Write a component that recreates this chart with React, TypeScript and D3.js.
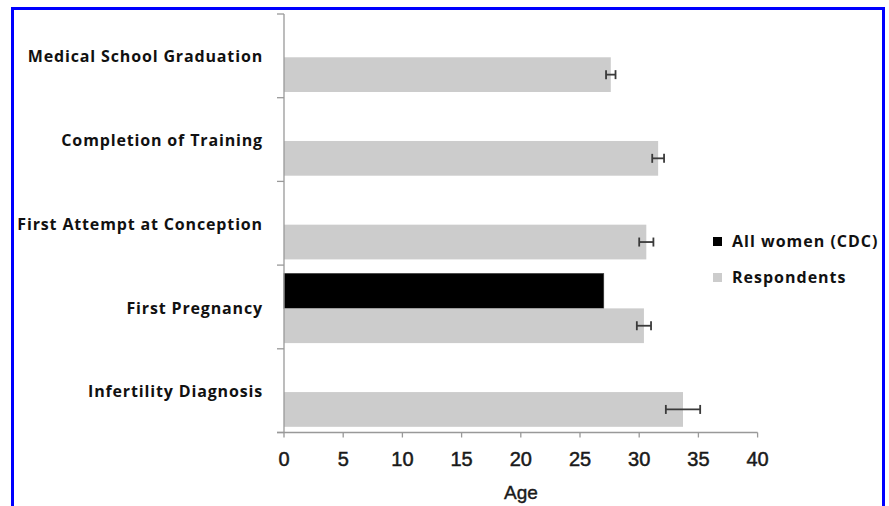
import React from "react";
import * as d3 from "d3";

const categories = [
  "Medical School Graduation",
  "Completion of Training",
  "First Attempt at Conception",
  "First Pregnancy",
  "Infertility Diagnosis",
];
const seriesNames = ["All women (CDC)", "Respondents"];
const cdcValues: (number | null)[] = [null, null, null, 27.0, null];
const respondentValues = [27.6, 31.6, 30.6, 30.4, 33.7];
const respondentErrors = [0.4, 0.5, 0.6, 0.6, 1.45];
const xTicks = [0, 5, 10, 15, 20, 25, 30, 35, 40];
const colors = ["#000000", "#cccccc"];

const W = 889;
const H = 506;
const left = 284;
const right = 757.6;
const top = 14;
const bottom = 432.5;

export default function App() {
  const x = d3.scaleLinear().domain([0, 40]).range([left, right]);
  const y = d3
    .scaleBand<string>()
    .domain(categories)
    .range([top, bottom])
    .paddingInner(0.17)
    .paddingOuter(0.085)
    .align(0.6);
  const sub = d3.scaleBand<string>().domain(seriesNames).range([0, y.bandwidth()]);
  const step = y.step();
  const boundaries = d3.range(categories.length + 1).map((i) => top + i * step);
  const labelFont = "'Open Sans', 'DejaVu Sans', sans-serif";
  const tickFont = "'Liberation Sans', Arial, sans-serif";

  return (
    <svg width={W} height={H} style={{ position: "absolute", left: 0, top: 0, background: "#fff" }}>
      <rect x={0} y={0} width={W} height={H} fill="#fff" />
      <rect x={12.5} y={8.5} width={871} height={H + 20} fill="none" stroke="#0000ff" strokeWidth={3} />
      {/* bars */}
      {categories.map((c, i) => {
        const y0 = y(c)!;
        const cdc = cdcValues[i];
        const r = respondentValues[i];
        const e = respondentErrors[i];
        const ry = y0 + sub(seriesNames[1])!;
        const bh = sub.bandwidth();
        return (
          <g key={c}>
            {cdc !== null && (
              <rect x={x(0)} y={y0 + sub(seriesNames[0])!} width={x(cdc) - x(0)} height={bh} fill={colors[0]} stroke="#333" strokeWidth={0.8} />
            )}
            <rect x={x(0)} y={ry} width={x(r) - x(0)} height={bh} fill={colors[1]} />
            <g stroke="#3a3a3a" strokeWidth={1.8}>
              <line x1={x(r - e)} x2={x(r + e)} y1={ry + bh / 2} y2={ry + bh / 2} />
              <line x1={x(r - e)} x2={x(r - e)} y1={ry + bh / 2 - 4.5} y2={ry + bh / 2 + 4.5} />
              <line x1={x(r + e)} x2={x(r + e)} y1={ry + bh / 2 - 4.5} y2={ry + bh / 2 + 4.5} />
            </g>
          </g>
        );
      })}
      {/* category labels at band centers */}
      {categories.map((c, i) => (
        <text
          key={"l" + c}
          x={263}
          y={boundaries[i] + step / 2 + 1}
          dy="0.35em"
          textAnchor="end"
          fontFamily={labelFont}
          fontWeight={700}
          fontSize={16}
          letterSpacing={0.85}
          fill="#111"
        >
          {c}
        </text>
      ))}
      {/* y axis */}
      <line x1={left} x2={left} y1={top} y2={bottom} stroke="#999" strokeWidth={1.3} />
      {boundaries.map((b, i) => (
        <line key={"yt" + i} x1={left - 7} x2={left} y1={b} y2={b} stroke="#999" strokeWidth={1.3} />
      ))}
      {/* x axis */}
      <line x1={left - 7} x2={right} y1={bottom} y2={bottom} stroke="#999" strokeWidth={1.3} />
      {xTicks.map((t) => (
        <g key={"xt" + t}>
          <line x1={x(t)} x2={x(t)} y1={bottom} y2={bottom + 5} stroke="#999" strokeWidth={1.3} />
          <text x={x(t)} y={459} dy="0.35em" textAnchor="middle" fontFamily={tickFont} fontSize={20} fill="#1a1a1a" stroke="#1a1a1a" strokeWidth={0.5}>
            {t}
          </text>
        </g>
      ))}
      <text x={521} y={492} dy="0.35em" textAnchor="middle" fontFamily={tickFont} fontSize={19} fill="#1a1a1a" stroke="#1a1a1a" strokeWidth={0.4}>
        Age
      </text>
      {/* legend */}
      {seriesNames.map((s, i) => (
        <g key={"lg" + s}>
          <rect x={713} y={237 + i * 36} width={9} height={9} fill={colors[i]} />
          <text x={732} y={241.5 + i * 36} dy="0.35em" fontFamily={labelFont} fontWeight={700} fontSize={16} letterSpacing={1} fill="#111">
            {s}
          </text>
        </g>
      ))}
    </svg>
  );
}
